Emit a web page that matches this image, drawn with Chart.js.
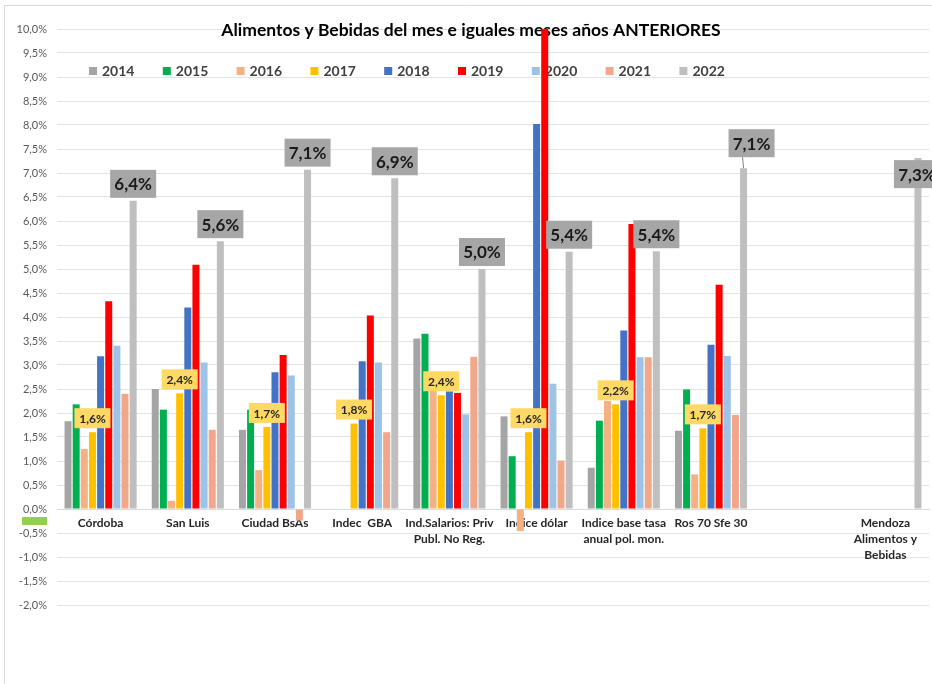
<!DOCTYPE html>
<html>
<head>
<meta charset="utf-8">
<script src="https://cdn.jsdelivr.net/npm/chart.js@4.4.0/dist/chart.umd.min.js"></script>
<style>
  html, body { margin: 0; padding: 0; background: #fff; }
  #wrap { position: relative; width: 932px; height: 684px; }
</style>
</head>
<body>
<div id="wrap"><canvas id="chart" width="932" height="684"></canvas></div>
<script>
// categories (multi-line labels as arrays)
const categories = [
  'Córdoba',
  'San Luis',
  'Ciudad BsAs',
  'Indec  GBA',
  ['Ind.Salarios: Priv', 'Publ. No Reg.'],
  'Indice dólar',
  ['Indice base tasa', 'anual pol. mon.'],
  'Ros 70 Sfe 30',
  '',
  ['Mendoza', 'Alimentos y', 'Bebidas']
];

const years = ['2014', '2015', '2016', '2017', '2018', '2019', '2020', '2021', '2022'];

// monthly food & drink inflation, %
const v2014 = [1.83, 2.50, 1.65, null, 3.55, 1.93, 0.86, 1.63, null, null];
const v2015 = [2.18, 2.07, 2.07, null, 3.65, 1.10, 1.84, 2.49, null, null];
const v2016 = [1.25, 0.17, 0.81, null, 2.50, -0.46, 2.25, 0.72, null, null];
const v2017 = [1.60, 2.41, 1.71, 1.78, 2.37, 1.60, 2.18, 1.68, null, null];
const v2018 = [3.18, 4.20, 2.85, 3.08, 2.45, 8.02, 3.72, 3.42, null, null];
const v2019 = [4.33, 5.09, 3.21, 4.03, 2.42, 10.0, 5.94, 4.67, null, null];
const v2020 = [3.40, 3.05, 2.78, 3.05, 1.97, 2.61, 3.16, 3.19, null, null];
const v2021 = [2.40, 1.65, -0.24, 1.60, 3.17, 1.01, 3.16, 1.96, null, null];
const v2022 = [6.42, 5.58, 7.07, 6.89, 5.00, 5.36, 5.37, 7.10, null, 7.31];

const series = [v2014, v2015, v2016, v2017, v2018, v2019, v2020, v2021, v2022];
const colors = ['#A5A5A5', '#00B050', '#F4B183', '#FFC000', '#4472C4', '#FF0000', '#9DC3E6', '#F2A68A', '#BFBFBF'];

const FONT = 'Lato, "Open Sans", sans-serif';

function pct(v) {
  return v.toFixed(1).replace('.', ',') + '%';
}

// title, legend and frame are drawn by hand because Excel put them inside the plot
const decorPlugin = {
  id: 'decor',
  beforeDraw(chart) {
    const ctx = chart.ctx;
    ctx.save();
    ctx.fillStyle = '#fff';
    ctx.fillRect(0, 0, chart.width, chart.height);
    ctx.strokeStyle = '#D9D9D9';
    ctx.lineWidth = 1;
    ctx.beginPath();
    ctx.moveTo(4.5, chart.height);
    ctx.lineTo(4.5, 5.5);
    ctx.lineTo(chart.width, 5.5);
    ctx.stroke();
    // stray green mark under the 0% tick
    ctx.fillStyle = '#92D050';
    ctx.fillRect(22, 517, 25, 8);
    ctx.restore();
  },
  beforeDatasetsDraw(chart) {
    const ctx = chart.ctx;
    ctx.save();
    ctx.fillStyle = '#000';
    ctx.font = 'bold 17.5px ' + FONT;
    ctx.textAlign = 'center';
    ctx.textBaseline = 'middle';
    ctx.fillText('Alimentos y Bebidas del mes e iguales meses años ANTERIORES', 471, 30);

    ctx.font = 'bold 14px ' + FONT;
    ctx.textAlign = 'left';
    years.forEach((y, i) => {
      const x = 89 + i * 73.8;
      ctx.fillStyle = colors[i];
      ctx.fillRect(x, 67, 8, 8);
      ctx.fillStyle = '#404040';
      ctx.fillText(y, x + 13, 71.5);
    });
    ctx.restore();
  },
  afterDatasetsDraw(chart) {
    const ctx = chart.ctx;
    ctx.save();
    ctx.textAlign = 'center';
    ctx.textBaseline = 'middle';

    // yellow boxes on 2017
    const m17 = chart.getDatasetMeta(3);
    ctx.font = 'bold 12px ' + FONT;
    v2017.forEach((v, j) => {
      if (v === null) return;
      const bar = m17.data[j];
      const w = 36, h = 20;
      const bx = bar.x - w / 2, by = bar.y - 4 - h;
      ctx.fillStyle = '#FFD966';
      ctx.fillRect(bx, by, w, h);
      ctx.fillStyle = '#262626';
      ctx.fillText(pct(v), bar.x, by + h / 2 + 1);
    });

    // gray boxes on 2022
    const m22 = chart.getDatasetMeta(8);
    const shift = { 7: [8, -8], 9: [-1, 33] };
    ctx.font = 'bold 17px ' + FONT;
    v2022.forEach((v, j) => {
      if (v === null) return;
      const bar = m22.data[j];
      const d = shift[j] || [0, 0];
      const w = 46, h = 28;
      const cx = bar.x + d[0];
      const bx = cx - w / 2, by = bar.y - 3 - h + d[1];
      if (j === 7) {
        ctx.strokeStyle = '#808080';
        ctx.lineWidth = 1;
        ctx.beginPath();
        ctx.moveTo(bar.x, bar.y);
        ctx.lineTo(bx + 14, by + h);
        ctx.stroke();
      }
      ctx.fillStyle = '#A6A6A6';
      ctx.fillRect(bx, by, w, h);
      ctx.fillStyle = '#1A1A1A';
      ctx.fillText(pct(v), cx, by + h / 2 + 1);
    });
    ctx.restore();
  }
};

const datasets = years.map((y, i) => ({
  label: y,
  data: series[i],
  backgroundColor: colors[i],
  borderWidth: 0,
  categoryPercentage: 0.84,
  barPercentage: 0.86
}));

new Chart(document.getElementById('chart'), {
  type: 'bar',
  data: { labels: categories, datasets: datasets },
  options: {
    responsive: false,
    animation: false,
    layout: { padding: { left: 5, top: 29, right: 3, bottom: 79 } },
    plugins: {
      legend: { display: false },
      title: { display: false },
      tooltip: { enabled: false }
    },
    scales: {
      x: {
        position: { y: 0 },
        grid: { display: false, drawTicks: false },
        border: { display: true, color: '#D9D9D9' },
        ticks: {
          autoSkip: false,
          maxRotation: 0,
          padding: 6,
          color: '#262626',
          font: { family: FONT, size: 12, weight: 'bold', lineHeight: 1.35 }
        }
      },
      y: {
        min: -2,
        max: 10,
        afterFit(scale) { scale.width = 52; },
        grid: { color: '#E3E3E3', drawTicks: false },
        border: { display: false },
        ticks: {
          stepSize: 0.5,
          maxTicksLimit: 30,
          padding: 10,
          color: '#595959',
          font: { family: FONT, size: 11 },
          callback: (v) => pct(v)
        }
      }
    }
  },
  plugins: [decorPlugin]
});
</script>
</body>
</html>
